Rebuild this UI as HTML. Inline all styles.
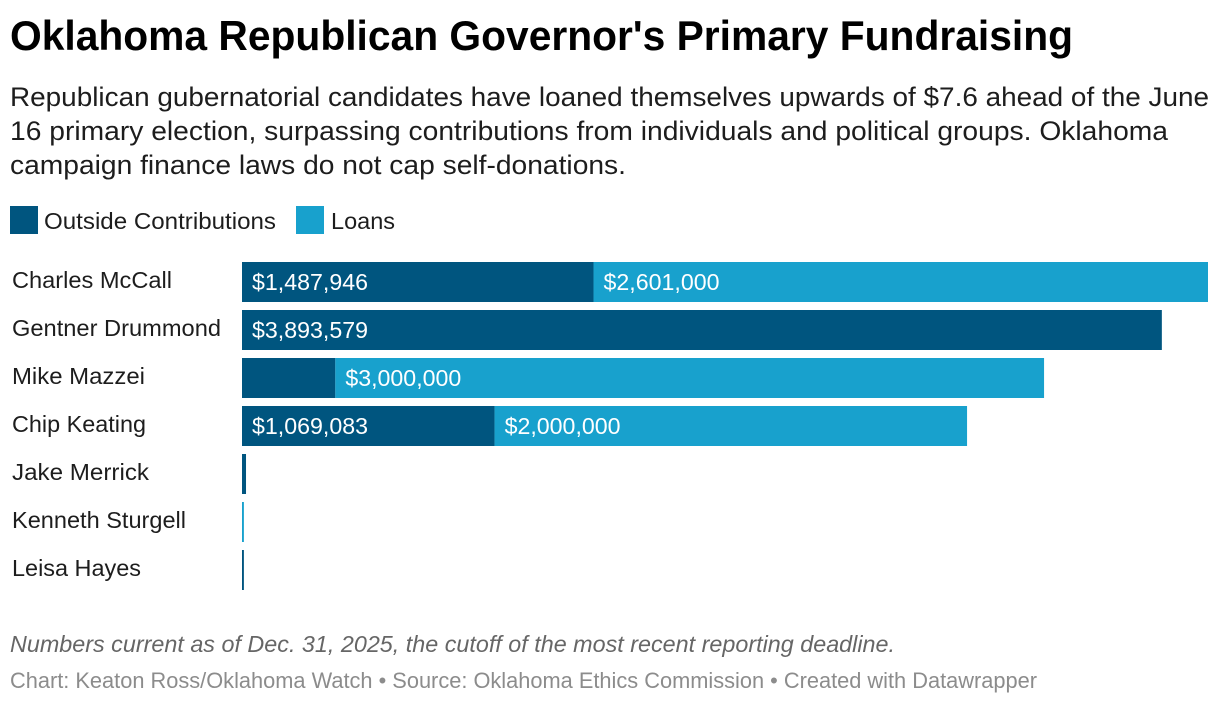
<!DOCTYPE html>
<html lang="en">
<head>
<meta charset="utf-8">
<title>Oklahoma Republican Governor's Primary Fundraising</title>
<style>
html,body{margin:0;padding:0;background:#fff;width:1220px;height:704px;overflow:hidden}
svg{display:block}
text{font-family:"Liberation Sans",Arial,sans-serif}
</style>
</head>
<body>
<svg id="chart" width="1220" height="704" viewBox="0 0 1220 704" xmlns="http://www.w3.org/2000/svg">
  <rect x="0" y="0" width="1220" height="704" fill="#ffffff"/>
  <text x="10" y="50" font-size="42" font-weight="700" fill="#000000" textLength="1063" lengthAdjust="spacingAndGlyphs">Oklahoma Republican Governor's Primary Fundraising</text>
  <g font-size="27" fill="#1d1d1d">
    <text x="10" y="106" textLength="1199" lengthAdjust="spacingAndGlyphs">Republican gubernatorial candidates have loaned themselves upwards of $7.6 ahead of the June</text>
    <text x="10" y="140" textLength="1158" lengthAdjust="spacingAndGlyphs">16 primary election, surpassing contributions from individuals and political groups. Oklahoma</text>
    <text x="10" y="174" textLength="616" lengthAdjust="spacingAndGlyphs">campaign finance laws do not cap self-donations.</text>
  </g>
  <g>
    <rect x="10" y="206" width="28" height="28" fill="#00557f"/>
    <text x="44" y="229" font-size="23.5" fill="#1d1d1d" textLength="232" lengthAdjust="spacingAndGlyphs">Outside Contributions</text>
    <rect x="296" y="206" width="28" height="28" fill="#18a1cd"/>
    <text x="331" y="229" font-size="23.5" fill="#1d1d1d" textLength="64" lengthAdjust="spacingAndGlyphs">Loans</text>
  </g>
  <g font-size="23.5" fill="#1d1d1d">
    <text x="12" y="288" textLength="160" lengthAdjust="spacingAndGlyphs">Charles McCall</text>
    <text x="12" y="336" textLength="209" lengthAdjust="spacingAndGlyphs">Gentner Drummond</text>
    <text x="12" y="384" textLength="133" lengthAdjust="spacingAndGlyphs">Mike Mazzei</text>
    <text x="12" y="432" textLength="134" lengthAdjust="spacingAndGlyphs">Chip Keating</text>
    <text x="12" y="480" textLength="137" lengthAdjust="spacingAndGlyphs">Jake Merrick</text>
    <text x="12" y="528" textLength="174" lengthAdjust="spacingAndGlyphs">Kenneth Sturgell</text>
    <text x="12" y="576" textLength="129" lengthAdjust="spacingAndGlyphs">Leisa Hayes</text>
  </g>
  <g id="rows"></g>
  <text x="10" y="652" font-size="23.5" font-style="italic" fill="#666666" textLength="885" lengthAdjust="spacingAndGlyphs">Numbers current as of Dec. 31, 2025, the cutoff of the most recent reporting deadline.</text>
  <text x="10" y="688" font-size="22" fill="#8c8c8c" textLength="1027" lengthAdjust="spacingAndGlyphs">Chart: Keaton Ross/Oklahoma Watch • Source: Oklahoma Ethics Commission • Created with Datawrapper</text>
</svg>
<script>
const candidates = ["Charles McCall", "Gentner Drummond", "Mike Mazzei", "Chip Keating", "Jake Merrick", "Kenneth Sturgell", "Leisa Hayes"];
const outsideContributions = [1487946, 3893579, 395000, 1069083, 17000, 0, 8000];
const loans = [2601000, 0, 3000000, 2000000, 0, 8000, 0];

const NS = "http://www.w3.org/2000/svg";
const rows = document.getElementById("rows");
const plotLeft = 242;
const plotWidth = 966;
const firstRowTop = 262;
const rowStep = 48;
const barHeight = 40;
const maxTotal = Math.max(...candidates.map((_, i) => outsideContributions[i] + loans[i]));
const xScale = v => (v / maxTotal) * plotWidth;
const yScale = i => firstRowTop + i * rowStep;
const money = v => "$" + v.toLocaleString("en-US");
const minLabelPx = 130;
const valueLabelWidth = 116;

candidates.forEach((name, i) => {
  const y = yScale(i);
  const w1 = xScale(outsideContributions[i]);
  const w2 = xScale(loans[i]);

  if (w1 > 0) {
    const bar = document.createElementNS(NS, "rect");
    
    
    bar.setAttribute("x", plotLeft);
    bar.setAttribute("y", y);
    bar.setAttribute("width", w1);
    bar.setAttribute("height", barHeight);
    bar.setAttribute("fill", "#00557f");
    rows.appendChild(bar);
  }
  if (w2 > 0) {
    const bar = document.createElementNS(NS, "rect");
    
    
    bar.setAttribute("x", plotLeft + w1);
    bar.setAttribute("y", y);
    bar.setAttribute("width", w2);
    bar.setAttribute("height", barHeight);
    bar.setAttribute("fill", "#18a1cd");
    rows.appendChild(bar);
  }
  if (w1 >= minLabelPx) {
    const t = document.createElementNS(NS, "text");
    
    
    t.setAttribute("x", plotLeft + 10);
    t.setAttribute("y", y + 28);
    t.setAttribute("font-size", "23.5");
    t.setAttribute("fill", "#ffffff");
    t.setAttribute("textLength", valueLabelWidth);
    t.setAttribute("lengthAdjust", "spacingAndGlyphs");
    t.textContent = money(outsideContributions[i]);
    rows.appendChild(t);
  }
  if (w2 >= minLabelPx) {
    const t = document.createElementNS(NS, "text");
    
    
    t.setAttribute("x", plotLeft + w1 + 10);
    t.setAttribute("y", y + 28);
    t.setAttribute("font-size", "23.5");
    t.setAttribute("fill", "#ffffff");
    t.setAttribute("textLength", valueLabelWidth);
    t.setAttribute("lengthAdjust", "spacingAndGlyphs");
    t.textContent = money(loans[i]);
    rows.appendChild(t);
  }
});
</script>
</body>
</html>
